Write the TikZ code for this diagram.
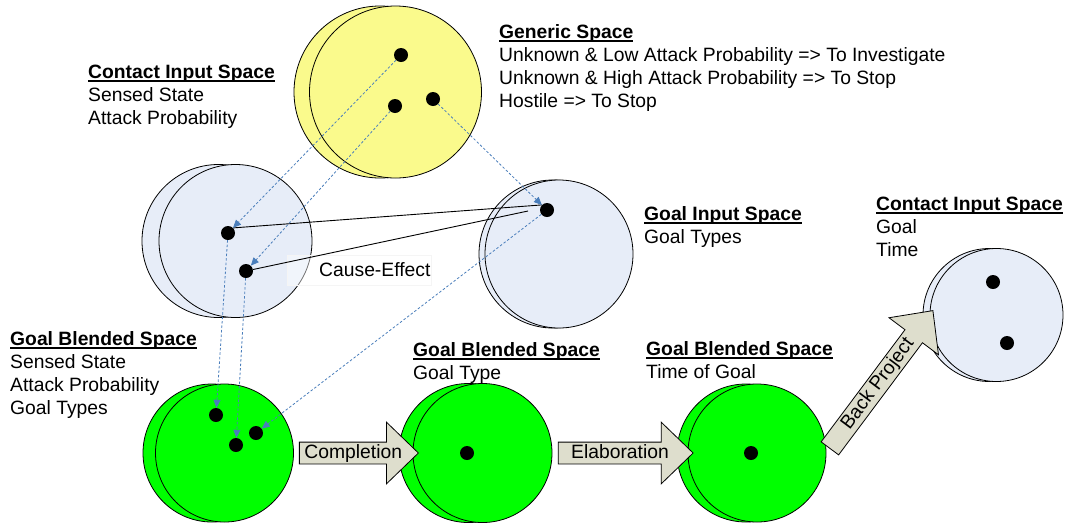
\documentclass[tikz,border=0pt]{standalone}
\usepackage{fontspec}
\setmainfont{Liberation Sans}
\usetikzlibrary{arrows.meta,calc,shapes.arrows}
\definecolor{spaceyellow}{RGB}{250,250,140}
\definecolor{spaceblue}{RGB}{231,237,248}
\definecolor{spacegreen}{RGB}{0,255,0}
\definecolor{mapblue}{RGB}{74,126,187}
\definecolor{stepfill}{RGB}{222,222,205}
\newcommand{\hdr}[1]{\setbox0\hbox{\textbf{#1}}\rlap{\rule[-3.8pt]{\wd0}{1.4pt}}\box0}

\begin{document}
\begin{tikzpicture}[x=1pt,y=-1pt,font=\fontsize{19.3}{23}\selectfont,
  space/.style={circle,draw=black,line width=0.8pt,inner sep=0},
  pt/.style={circle,fill=black,inner sep=0,minimum size=14pt},
  txt/.style={anchor=base west,inner sep=0,align=left},
  map/.style={mapblue,line width=0.8pt,dash pattern=on 2.5pt off 2pt,-{Triangle[length=8pt,width=7pt]}},
  link/.style={black,line width=0.9pt},
  blockarrow/.style={single arrow,draw=black,fill=stepfill,line width=0.8pt,inner xsep=0,inner ysep=1.5pt,
    text height=14pt,text depth=4pt,single arrow head extend=20pt,single arrow tip angle=88}]

\useasboundingbox (0,0) rectangle (1065,523);

\node[space,fill=spaceyellow,minimum size=172pt] at (380,92) {};
\node[space,fill=spaceyellow,minimum size=172pt] (gen) at (395.5,92) {};
\node[space,fill=spaceblue,minimum size=153pt] at (218.5,241) {};
\node[space,fill=spaceblue,minimum size=153pt] (cin) at (235.5,241) {};
\node[space,fill=spaceblue,minimum size=148pt] at (553,254) {};
\node[space,fill=spaceblue,minimum size=148pt] (gin) at (559,254) {};
\node[space,fill=spaceblue,minimum size=133pt] at (989.5,315) {};
\node[space,fill=spaceblue,minimum size=133pt] (cinb) at (996.5,315) {};
\node[space,fill=spacegreen,minimum size=138pt] at (212,453) {};
\node[space,fill=spacegreen,minimum size=138pt] (blA) at (224.5,453) {};
\node[space,fill=spacegreen,minimum size=139pt] at (468.5,453) {};
\node[space,fill=spacegreen,minimum size=139pt] (blB) at (482.5,453) {};
\node[space,fill=spacegreen,minimum size=138pt] at (746,453) {};
\node[space,fill=spacegreen,minimum size=138pt] (blC) at (757,453) {};

\draw[draw=black!4,fill=white,fill opacity=.45] (287,255) rectangle (431,285);

\node[pt] (ga) at (401,55) {};
\node[pt] (gb) at (395,106) {};
\node[pt] (gc) at (433,99) {};
\node[pt] (la) at (228,233) {};
\node[pt] (lb) at (246,271) {};
\node[pt] (ra) at (547,210) {};
\node[pt] (ba) at (216,415) {};
\node[pt] (bb) at (236,445) {};
\node[pt] (bc) at (256,433) {};
\node[pt] (ma) at (467,453) {};
\node[pt] (ta) at (751,453) {};
\node[pt] (ca) at (993,282) {};
\node[pt] (cb) at (1007,343) {};

\coordinate (ce) at (528,211);
\draw[link] (la.north east) -- (ra.north west);
\draw[link] (lb) -- (ce);

\draw[map] (ga) -- (la);
\draw[map] (gb) -- (lb);
\draw[map] (gc) -- (ra);
\draw[map] (la) -- (ba);
\draw[map] (lb) -- (bb);
\draw[map] (ra) -- (bc);

% text anchored at the baseline of its last line
\node[txt] (gent) at (499,107) {\hdr{Generic Space}\\Unknown \& Low Attack Probability => To Investigate\\Unknown \& High Attack Probability => To Stop\\Hostile => To Stop};
\node[txt] (cint) at (88,124) {\hdr{Contact Input Space}\\Sensed State\\Attack Probability};
\node[txt] (gint) at (644,243) {\hdr{Goal Input Space}\\Goal Types};
\node[txt] (cinbt) at (876,256) {\hdr{Contact Input Space}\\Goal\\Time};
\node[txt] (blAt) at (10,414) {\hdr{Goal Blended Space}\\Sensed State\\Attack Probability\\Goal Types};
\node[txt] (blBt) at (413,379) {\hdr{Goal Blended Space}\\Goal Type};
\node[txt] (blCt) at (646,378) {\hdr{Goal Blended Space}\\Time of Goal};
\node[txt] (cause) at (319,276) {Cause-Effect};

\node[blockarrow,minimum height=119pt] (compl) at ($(blA.east)!.5!(blB.west)$) {\makebox[0pt]{Completion}};
\node[blockarrow,minimum height=135pt] (elab) at ($(blB.east)!.5!(blC.west)$) {\makebox[0pt]{Elaboration}};
\node[blockarrow,minimum height=172pt,rotate=53.2] (back) at ($(blC.east)!.5!(cinb.west)$) {\makebox[0pt]{Back Project}};

\end{tikzpicture}
\end{document}
